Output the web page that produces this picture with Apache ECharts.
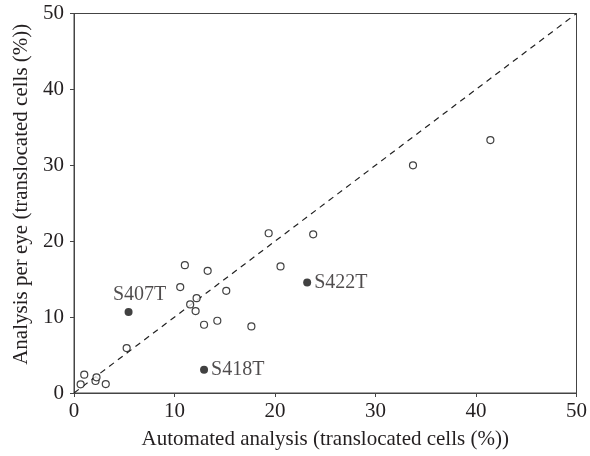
<!DOCTYPE html>
<html>
<head>
<meta charset="utf-8">
<script src="https://cdn.jsdelivr.net/npm/echarts@6/dist/echarts.min.js"></script>
<style>
    html, body { margin: 0; padding: 0; background: #fff; }
    #chart { width: 590px; height: 456px; }
</style>
</head>
<body>
<div id="chart"></div>
<script type="text/javascript">
    // open circles: [automated, per eye]
    var openPoints = [
        [0.66, 1.14], [1.02, 2.41], [2.14, 1.58], [2.24, 2.07], [3.16, 1.18],
        [5.24, 5.92], [10.57, 13.95], [11.03, 16.84], [13.3, 16.1], [12.2, 12.5],
        [11.56, 11.67], [12.1, 10.79], [12.94, 8.99], [14.26, 9.52], [15.15, 13.46],
        [17.65, 8.77], [19.37, 21.05], [20.55, 16.67], [23.8, 20.9], [33.73, 30.0],
        [41.43, 33.33]
    ];
    // labelled mutants
    var mutantNames = ['S407T', 'S418T', 'S422T'];
    var mutantPoints = [[5.43, 10.66], [12.94, 3.07], [23.2, 14.55]];
    var identityLine = [[0, 0], [50, 50]];
    var axisMin = 0, axisMax = 50, axisStep = 10;

    var font = '"Liberation Serif", "DejaVu Serif", serif';
    var ink = '#231f20';

    var mutantData = [];
    for (var i = 0; i < mutantPoints.length; i++) {
        var pos = i === 0 ? 'top' : 'right';
        mutantData.push({
            value: mutantPoints[i],
            name: mutantNames[i],
            label: {
                position: pos,
                offset: i === 0 ? [11, 0] : [0, 0]
            }
        });
    }

    var myChart = echarts.init(document.getElementById('chart'));
    var option = {
        animation: false,
        grid: {
            left: 74, right: 10, top: 13.5, bottom: 63,
            show: true, borderColor: '#444', borderWidth: 1
        },
        xAxis: {
            type: 'value', min: axisMin, max: axisMax, interval: axisStep,
            name: 'Automated analysis (translocated cells (%))',
            nameLocation: 'middle', nameGap: 36,
            nameTextStyle: { fontFamily: font, fontSize: 21, color: ink },
            axisLine: { lineStyle: { color: '#444', width: 1 } },
            axisTick: { length: 4, lineStyle: { color: '#444' } },
            axisLabel: { fontFamily: font, fontSize: 21, color: ink, margin: 8 },
            splitLine: { show: false }
        },
        yAxis: {
            type: 'value', min: axisMin, max: axisMax, interval: axisStep,
            name: 'Analysis per eye (translocated cells (%))',
            nameLocation: 'middle', nameGap: 41,
            nameTextStyle: { fontFamily: font, fontSize: 21, color: ink, padding: [0, 0, 0, 18] },
            axisLine: { lineStyle: { color: '#444', width: 1 } },
            axisTick: { length: 4, lineStyle: { color: '#444' } },
            axisLabel: { fontFamily: font, fontSize: 21, color: ink, margin: 10 },
            splitLine: { show: false }
        },
        series: [
            {
                type: 'line',
                data: identityLine,
                symbol: 'none',
                silent: true,
                lineStyle: { color: '#222', width: 1.2, type: [6, 5] },
                z: 1
            },
            {
                type: 'scatter',
                data: openPoints,
                symbol: 'circle',
                symbolSize: 7,
                itemStyle: { color: '#fff', borderColor: '#111', borderWidth: 1.2 },
                z: 3
            },
            {
                type: 'scatter',
                data: mutantData,
                symbol: 'circle',
                symbolSize: 8,
                itemStyle: { color: '#111' },
                label: {
                    show: true,
                    formatter: '{b}',
                    fontFamily: font,
                    fontSize: 20,
                    color: ink,
                    distance: 3
                },
                z: 4
            }
        ]
    };
    myChart.setOption(option);
</script>
</body>
</html>
